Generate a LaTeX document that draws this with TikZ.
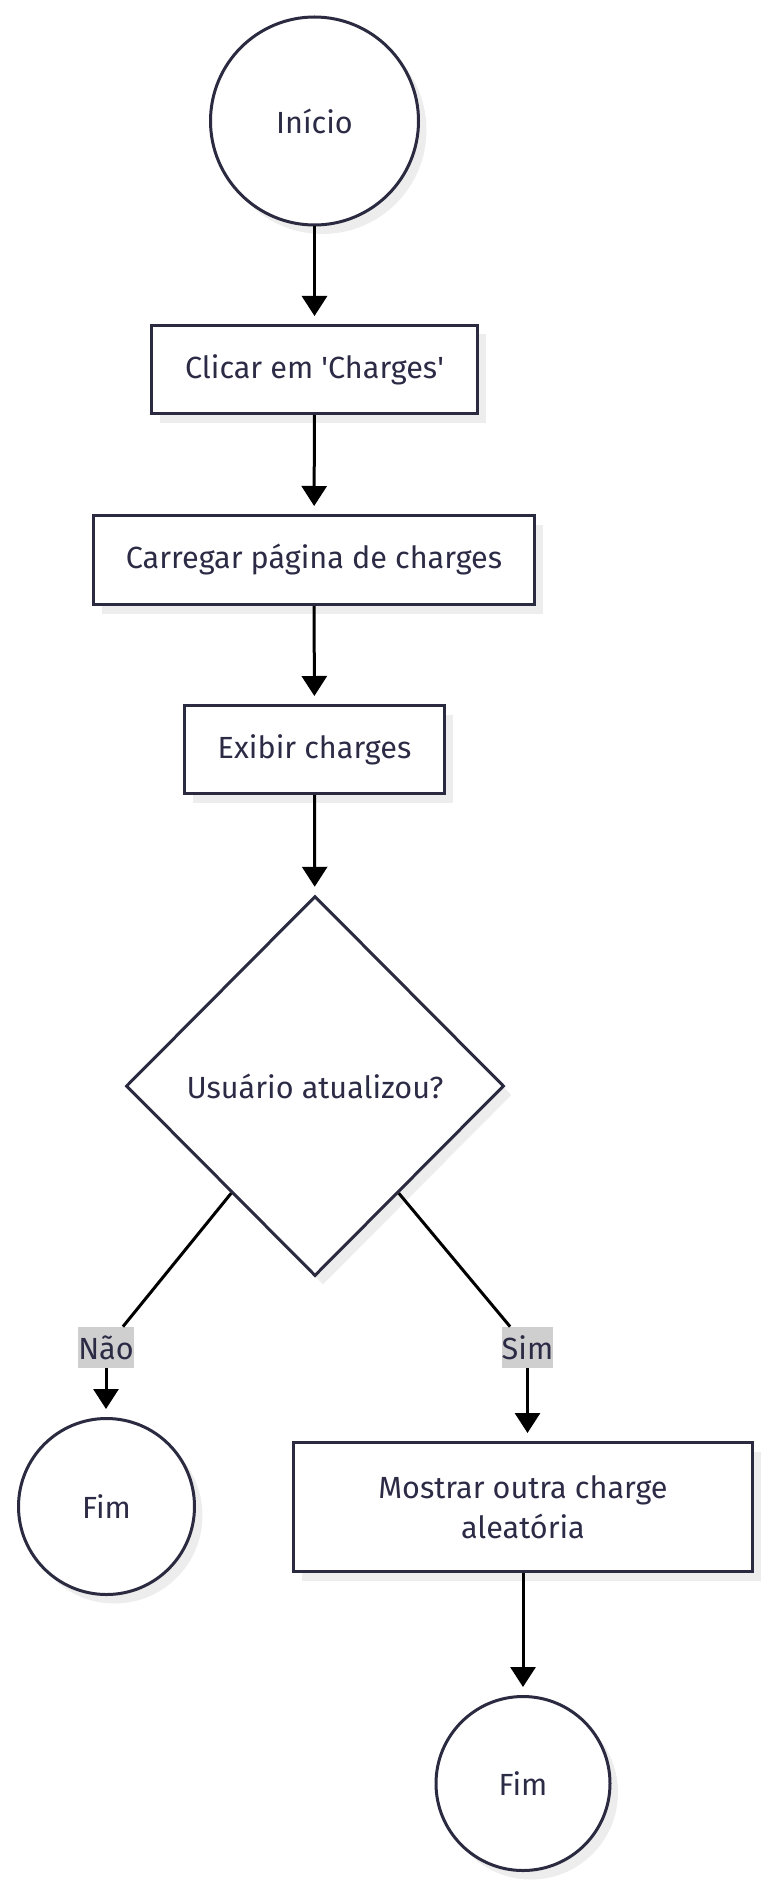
\documentclass[tikz,border=0pt]{standalone}
\usepackage{fontspec}
\setmainfont{Fira Sans}
\usepackage{tikz}
\usetikzlibrary{calc,shapes.geometric,shadows,arrows.meta}

\definecolor{inkline}{HTML}{2A2A40}
\definecolor{inktext}{HTML}{2C2B46}
\definecolor{shade}{HTML}{EDEDED}
\definecolor{lblgray}{HTML}{CFCFCF}

\begin{document}
\begin{tikzpicture}[x=1pt,y=-1pt,
  every node/.style={text=inktext,font=\fontsize{15.3}{20}\selectfont},
  shad/.style={drop shadow={shadow xshift=4pt,shadow yshift=-4.5pt,fill=shade,opacity=1}},
  stepbox/.style={rectangle,draw=inkline,line width=1.5pt,fill=white,shad,inner sep=0pt},
  endcirc/.style={circle,draw=inkline,line width=1.5pt,fill=white,shad,inner sep=0pt},
  askdiam/.style={diamond,aspect=1,draw=inkline,line width=1.5pt,fill=white,shad,inner sep=0pt},
  flow/.style={line width=1.5pt,draw=black},
  tip/.style={-{Triangle[width=12.5pt,length=10pt]},shorten >=4pt},
  lbl/.style={fill=lblgray,inner sep=0pt,minimum height=20.5pt}]

\useasboundingbox (0,0) rectangle (386,944);

\node[endcirc,minimum size=104pt] (ini) at (157.25,60.5) {Início};

\node[stepbox,minimum width=163pt,minimum height=44pt] (clicar) at (157.25,184.75) {Clicar em \textquotesingle Charges\textquotesingle};
\node[stepbox,minimum width=220.5pt,minimum height=44.5pt] (carregar) at (157,280) {Carregar página de charges};
\node[stepbox,minimum width=130pt,minimum height=44pt] (exibir) at (157.25,374.75) {Exibir charges};

\node[askdiam,minimum width=189pt,minimum height=190pt] (atual) at (157.5,543) {Usuário atualizou?};

\node[endcirc,minimum size=88pt] (fimnao) at (53.25,753.25) {Fim};
\node[stepbox,minimum width=229.5pt,minimum height=64.5pt,align=center] (outra) at (261.5,753.5) {Mostrar outra charge\\aleatória};
\node[endcirc,minimum size=87pt] (fimsim) at (261.5,891.75) {Fim};

\node[lbl,minimum width=26pt] (lnao) at (53,673.75) {Não};
\node[lbl,minimum width=24.5pt] (lsim) at (263.75,673.75) {Sim};

\draw[flow,tip] (ini) -- (clicar);
\draw[flow,tip] (clicar) -- (carregar);
\draw[flow,tip] (carregar) -- (exibir);
\draw[flow,tip] (exibir) -- (atual);

\draw[flow] ($(atual.south west)!0.12!(atual.south)$) -- (lnao);
\draw[flow,tip] (lnao) -- (lnao |- fimnao.north);

\draw[flow] ($(atual.south east)!0.12!(atual.south)$) -- (lsim);
\draw[flow,tip] (lsim) -- (lsim |- outra.north);

\draw[flow,tip] (outra) -- (fimsim);

\end{tikzpicture}
\end{document}
